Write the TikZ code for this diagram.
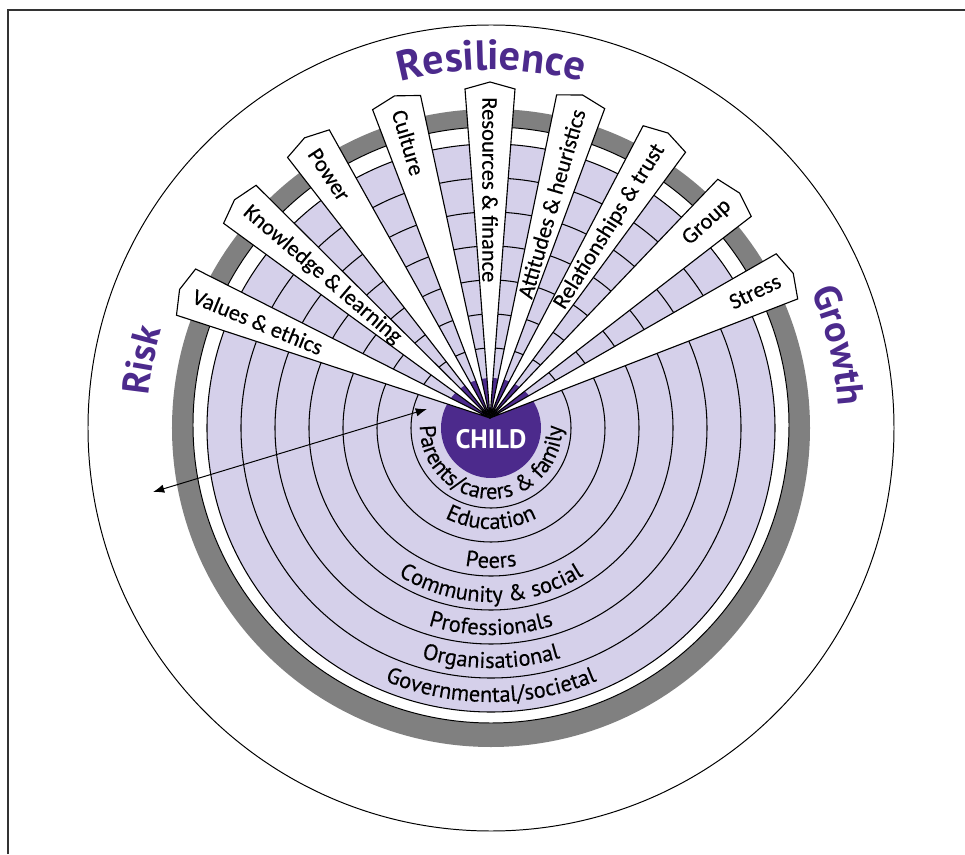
\documentclass[tikz,border=0pt]{standalone}
\usepackage{fontspec}
\setmainfont{PT Sans}
\newfontfamily\spokefont{Carlito}[FakeBold=0.3]
\newfontfamily\ringfont{PT Sans}[FakeBold=0.3]
\usetikzlibrary{decorations.text,arrows.meta}

\definecolor{lilac}{RGB}{213,208,234}
\definecolor{deep}{RGB}{76,42,140}
\definecolor{band}{RGB}{128,128,128}

\tikzset{
  pennant/.style={draw=black, fill=white, line width=0.8pt},
  ring/.style={draw=black, line width=0.75pt},
  spoke/.style={font=\spokefont\fontsize{16}{18}\selectfont, inner sep=0pt},
  ringlabel/.style={decorate, decoration={text along path, text align=center,
      text={|\ringfont\fontsize{16}{18}\selectfont|#1}}},
  titletext/.style={decorate, decoration={text along path, text align=center,
      text={|\color{deep}\bfseries\fontsize{27}{27}\selectfont|#1}}},
}

\begin{document}
\begin{tikzpicture}[x=0.025cm, y=0.025cm]
            \useasboundingbox (-491,-426) rectangle (474,428);
            % frame
            \draw[black!80, line width=1.5pt] (-483,-426) -- (-483,418) -- (474,418);
            % discs
            \draw[line width=0.7pt] (0,0) circle (403);
            \fill[band] (0,0) circle (319);
            \filldraw[fill=white, draw=black, line width=0.7pt] (0,3) circle (298);
            \filldraw[fill=lilac, ring] (0,0) circle (284);
            \foreach \r in {80,114,148,182,216,250}
                \draw[ring] (0,0) circle (\r);
            % ring labels
            \path[decorate, decoration={text along path, text align=fit to path,
                text={|\ringfont\fontsize{16}{18}\selectfont|Parents/carers {\&} family}}]
                (178:71) arc[start angle=178, end angle=360, radius=71];
            \path[ringlabel={Education}] (180:101) arc[start angle=180, end angle=360, radius=101];
            \path[ringlabel={Peers}] (180:140) arc[start angle=180, end angle=360, radius=140];
            \path[ringlabel={Community {\&} social}] (180:174) arc[start angle=180, end angle=360, radius=174];
            \path[ringlabel={Professionals}] (180:207) arc[start angle=180, end angle=360, radius=207];
            \path[ringlabel={Organisational}] (180:240) arc[start angle=180, end angle=360, radius=240];
            \path[ringlabel={Governmental/societal}] (180:274) arc[start angle=180, end angle=360, radius=274];
            % child
            \fill[deep] (0,0) circle (50);
            \foreach \ang/\lbl/\side/\flip [count=\i] in {157.5/Values \& ethics/west/180,
                    139.5/Knowledge \& learning/west/180, 123.5/Power/west/180,
                    106.5/Culture/west/180, 90/Resources \& finance/west/180,
                    74/Attitudes \& heuristics/east/0, 58/Relationships \& trust/east/0,
                    42/Group/east/0, 25.5/Stress/east/0} {
                \begin{scope}[shift={(-1,10)}, rotate=\ang]
                    \draw[pennant] (0,0) -- (329,25) -- (336,0) -- (329,-25) -- cycle;
                    \node[spoke, anchor=\side, rotate=\ang-\flip] (s\i) at (321,0) {\lbl};
                \end{scope}
            }
            \node[text=white, font=\bfseries\fontsize{19}{19}\selectfont] (child) at (0,-11) {CHILD};
            % titles
            \path[decorate, decoration={text along path, text align=center,
                text={|\color{deep}\bfseries\fontsize{30}{30}\selectfont|Resilience}}]
                (120:358) arc[start angle=120, end angle=60, radius=358];
            \path[titletext={Risk}] (199:344) arc[start angle=199, end angle=139, radius=344];
            \path[titletext={Growth}] (43.4:348) arc[start angle=43.4, end angle=-16.6, radius=348];
            % arrow
            \coordinate (farend) at (-338,-64);
            \coordinate (nearend) at (-64,19);
            \draw[{Latex[length=8pt,width=6pt]}-{Latex[length=8pt,width=6pt]}, line width=0.7pt] (farend) -- (nearend);
        \end{tikzpicture}
\end{document}
